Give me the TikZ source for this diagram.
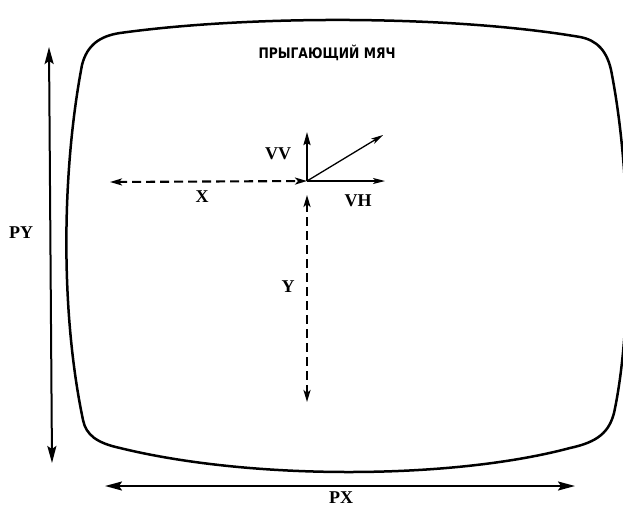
\documentclass[tikz,border=0pt]{standalone}
\usepackage{fontspec}
\newfontfamily\cyrfont{DejaVu Sans}
\newfontfamily\lblfont{Liberation Serif}
\usetikzlibrary{arrows.meta}
\begin{document}
\begin{tikzpicture}[x=1pt,y=-1pt,
  frame/.style={line width=2.5pt,line join=round},
  solidarrow/.style={line width=2.2pt,-{Stealth[length=13pt,width=7pt,inset=2pt]}},
  thinarrow/.style={line width=1.3pt,-{Stealth[length=12pt,width=6pt,inset=3pt]}},
  dimarrow/.style={line width=2pt,{Stealth[length=17pt,width=9pt,inset=3pt]}-{Stealth[length=17pt,width=9pt,inset=3pt]}},
  dasharrow/.style={line width=2.1pt,dash pattern=on 9pt off 5pt,{Stealth[length=12pt,width=7pt,inset=3pt]}-{Stealth[length=12pt,width=7pt,inset=3pt]}},
  lbl/.style={font=\lblfont\bfseries\fontsize{18}{20}\selectfont,inner sep=0pt}]
\useasboundingbox (0,0) rectangle (623,509);
% screen outline
\draw[frame] (120,33) .. controls (250,15) and (450,15) .. (580,37)
  .. controls (596,40) and (608,50) .. (612,75)
  .. controls (632,180) and (632,330) .. (614,413)
  .. controls (609,432) and (598,442) .. (570,448)
  .. controls (450,480) and (250,480) .. (120,448)
  .. controls (97,443) and (86,435) .. (83,420)
  .. controls (60,310) and (62,170) .. (82,65)
  .. controls (87,45) and (100,36) .. (120,33) -- cycle;
% title
\node[inner sep=0pt] (title) at (327,53) {\scalebox{0.85}[1]{\cyrfont\bfseries\fontsize{14.5}{16}\selectfont ПРЫГАЮЩИЙ МЯЧ}};
% origin
\coordinate (O) at (307,181);
\coordinate (vvend) at (307,132);
\coordinate (vhend) at (385,181);
\coordinate (vend) at (383,135);
\coordinate (xend) at (110,182);
\coordinate (ystart) at (307,195);
\coordinate (yend) at (307,402);
\draw[dasharrow] (xend) -- (O);
\draw[dasharrow] (ystart) -- (yend);
\draw[solidarrow] (O) -- (vvend);
\draw[thinarrow] (O) -- (vhend);
\draw[thinarrow] (O) -- (vend);
% dimension arrows
\coordinate (pytop) at (49,47);
\coordinate (pybot) at (52,463);
\coordinate (pxl) at (105,486);
\coordinate (pxr) at (575,486);
\draw[dimarrow] (pytop) -- (pybot);
\draw[dimarrow] (pxl) -- (pxr);
% labels
\node[lbl] (PY) at (21,233) {PY};
\node[lbl] (PX) at (341,498) {PX};
\node[lbl] (X) at (202,197) {X};
\node[lbl] (Y) at (288,287) {Y};
\node[lbl] (VV) at (278,154) {VV};
\node[lbl] (VH) at (358,201) {VH};
\end{tikzpicture}
\end{document}
